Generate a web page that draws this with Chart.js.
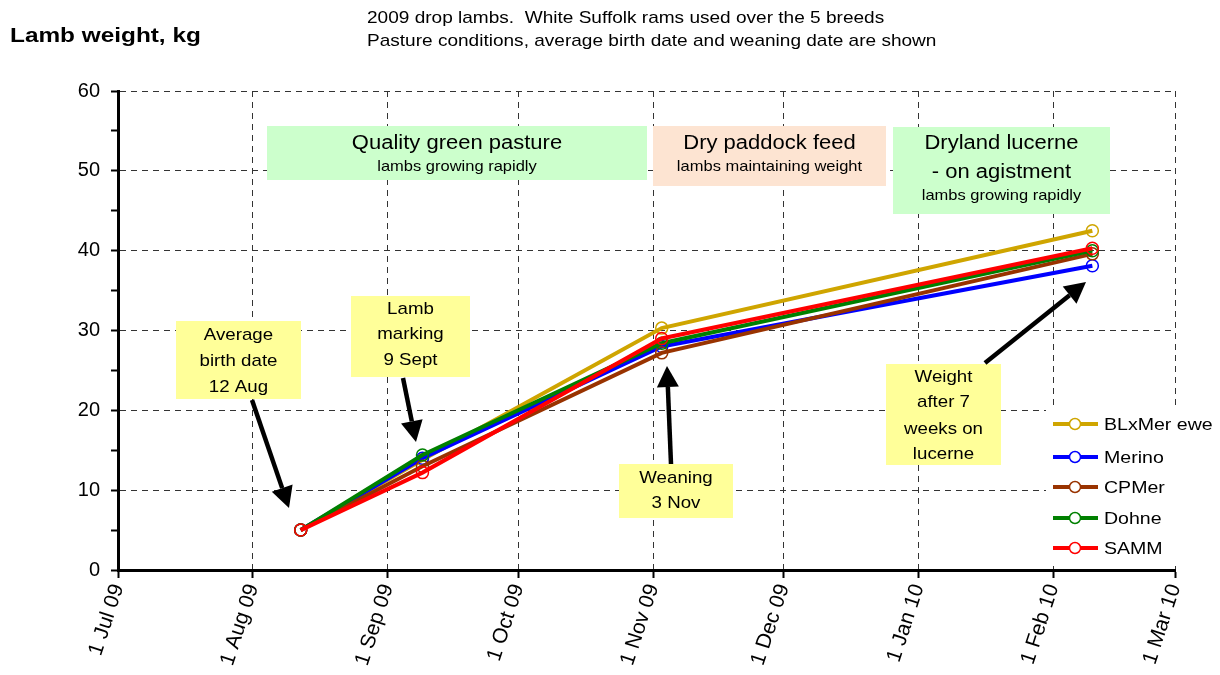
<!DOCTYPE html>
<html>
<head>
<meta charset="utf-8">
<script src="https://cdn.jsdelivr.net/npm/chart.js@4/dist/chart.umd.min.js"></script>
<style>
  body { margin: 0; background: #fff; }
  #wrap { width: 1220px; height: 675px; }
</style>
</head>
<body>
<div id="wrap"><canvas id="chartWeight" width="1220" height="675"></canvas></div>
<script>
// weigh dates and lamb weights (kg) per breed
const weighDates = ['2009-08-12', '2009-09-09', '2009-11-03', '2010-02-10'];
const blxmer = [5.0, 13.8, 30.3, 42.5];
const merino = [5.0, 14.0, 28.0, 38.1];
const cpmer  = [5.0, 13.0, 27.2, 39.6];
const dohne  = [5.0, 14.4, 28.4, 40.0];
const samm   = [5.0, 12.2, 29.0, 40.3];

// x axis month ticks
const monthDates  = ['2009-07-01', '2009-08-01', '2009-09-01', '2009-10-01', '2009-11-01',
                     '2009-12-01', '2010-01-01', '2010-02-01', '2010-03-01'];
const monthLabels = ['1 Jul 09', '1 Aug 09', '1 Sep 09', '1 Oct 09', '1 Nov 09',
                     '1 Dec 09', '1 Jan 10', '1 Feb 10', '1 Mar 10'];

const seriesNames = ['BLxMer ewe', 'Merino', 'CPMer', 'Dohne', 'SAMM'];
const seriesData  = [blxmer, merino, cpmer, dohne, samm];
const seriesColors = ['#CFA500', '#0000FF', '#993300', '#008000', '#FF0000'];

const dayOf = (s) => {
    const p = s.split('-').map(Number);
    return (Date.UTC(p[0], p[1] - 1, p[2]) - Date.UTC(2009, 6, 1)) / 86400000;
};
const weighDays = weighDates.map(dayOf);
const monthDays = monthDates.map(dayOf);

const FONT = 'Arial, "Liberation Sans", sans-serif';
Chart.defaults.font.family = FONT;
Chart.defaults.color = '#000';

// annotation boxes, pixel layout: [text, size, y]
const boxes = [
    { x: 176, y: 321, w: 125, h: 78, bg: '#FFFF99', lines: [['Average', 17, 335], ['birth date', 17, 361], ['12 Aug', 17, 387]] },
    { x: 351, y: 296, w: 119, h: 81, bg: '#FFFF99', lines: [['Lamb', 17, 309], ['marking', 17, 334], ['9 Sept', 17, 360]] },
    { x: 619, y: 464, w: 114, h: 54, bg: '#FFFF99', lines: [['Weaning', 17, 478], ['3 Nov', 17, 503]] },
    { x: 886, y: 364, w: 115, h: 101, bg: '#FFFF99', lines: [['Weight', 17, 377], ['after 7', 17, 402], ['weeks on', 17, 429], ['lucerne', 17, 454]] },
    { x: 267, y: 126, w: 380, h: 54, bg: '#CCFFCC', lines: [['Quality green pasture', 20, 143], ['lambs growing rapidly', 15, 167]] },
    { x: 653, y: 126, w: 233, h: 60, bg: '#FDE4D2', lines: [['Dry paddock feed', 20, 143], ['lambs maintaining weight', 15, 167]] },
    { x: 893, y: 127, w: 217, h: 87, bg: '#CCFFCC', lines: [['Dryland lucerne', 20, 143], ['- on agistment', 20, 172], ['lambs growing rapidly', 15, 196]] }
];
const arrows = [
    [252, 400, 289, 508],
    [403, 378, 416, 442],
    [671, 464, 667, 366],
    [985, 363, 1086, 282]
];

// text is slightly wider in the original, stretch a bit
function txt(ctx, s, x, y, size, sx, align, bold) {
    ctx.save();
    ctx.font = (bold ? 'bold ' : '') + size + 'px ' + FONT;
    ctx.textAlign = align || 'left';
    ctx.textBaseline = 'middle';
    ctx.translate(x, y);
    ctx.scale(sx, 1);
    ctx.fillText(s, 0, 0);
    ctx.restore();
}

function drawArrow(ctx, x1, y1, x2, y2) {
    const ang = Math.atan2(y2 - y1, x2 - x1);
    const headLen = 21, headW = 11;
    const bx = x2 - headLen * Math.cos(ang), by = y2 - headLen * Math.sin(ang);
    ctx.strokeStyle = '#000';
    ctx.lineWidth = 4.5;
    ctx.beginPath();
    ctx.moveTo(x1, y1);
    ctx.lineTo(bx, by);
    ctx.stroke();
    ctx.fillStyle = '#000';
    ctx.beginPath();
    ctx.moveTo(x2, y2);
    ctx.lineTo(bx + headW * Math.sin(ang), by - headW * Math.cos(ang));
    ctx.lineTo(bx - headW * Math.sin(ang), by + headW * Math.cos(ang));
    ctx.closePath();
    ctx.fill();
}

const extrasPlugin = {
    id: 'extras',
    afterDraw(chart) {
        const ctx = chart.ctx;
        ctx.save();
        ctx.fillStyle = '#000';
        txt(ctx, 'Lamb weight, kg', 10, 36, 21, 1.16, 'left', true);
        txt(ctx, '2009 drop lambs.  White Suffolk rams used over the 5 breeds', 367, 18, 17, 1.12);
        txt(ctx, 'Pasture conditions, average birth date and weaning date are shown', 367, 41, 17, 1.12);

        boxes.forEach(b => {
            ctx.fillStyle = b.bg;
            ctx.fillRect(b.x, b.y, b.w, b.h);
            ctx.fillStyle = '#000';
            b.lines.forEach(l => txt(ctx, l[0], b.x + b.w / 2, l[2], l[1], 1.1, 'center'));
        });
        arrows.forEach(a => drawArrow(ctx, a[0], a[1], a[2], a[3]));

        // legend, white background hides the grid
        ctx.fillStyle = '#fff';
        ctx.fillRect(1046, 405, 172, 161);
        const legY = [424, 457, 487, 518, 548];
        seriesNames.forEach((name, i) => {
            const y = legY[i];
            ctx.strokeStyle = seriesColors[i];
            ctx.lineWidth = 4;
            ctx.beginPath();
            ctx.moveTo(1053, y);
            ctx.lineTo(1098, y);
            ctx.stroke();
            ctx.fillStyle = '#fff';
            ctx.lineWidth = 1.5;
            ctx.beginPath();
            ctx.arc(1075, y, 5.5, 0, Math.PI * 2);
            ctx.fill();
            ctx.stroke();
            ctx.fillStyle = '#000';
            txt(ctx, name, 1104, y + 1, 17, 1.15);
        });
        ctx.restore();
    }
};

const datasets = seriesNames.map((name, i) => ({
    label: name,
    data: weighDays.map((d, j) => ({ x: d, y: seriesData[i][j] })),
    borderColor: seriesColors[i],
    borderWidth: 4,
    pointRadius: 6,
    pointBorderWidth: 1.5,
    pointBackgroundColor: 'rgba(255,255,255,0)',
    pointBorderColor: seriesColors[i],
    tension: 0,
    order: seriesNames.length - 1 - i
}));

new Chart(document.getElementById('chartWeight'), {
    type: 'line',
    data: { datasets },
    options: {
        responsive: false,
        animation: false,
        layout: { padding: { top: 91, right: 45, left: 0, bottom: 0 } },
        plugins: { legend: { display: false }, tooltip: { enabled: false } },
        scales: {
            x: {
                type: 'linear',
                min: 0,
                max: monthDays[monthDays.length - 1],
                afterBuildTicks: (axis) => { axis.ticks = monthDays.map(v => ({ value: v })); },
                afterFit: (scale) => { scale.height = 105; },
                ticks: {
                    minRotation: 72,
                    maxRotation: 72,
                    padding: 3,
                    font: { size: 21 },
                    callback: (v) => monthLabels[monthDays.indexOf(v)]
                },
                grid: {
                    color: '#333',
                    lineWidth: 1,
                    tickColor: '#000',
                    tickLength: 8,
                    tickWidth: 2,
                    tickBorderDash: []
                },
                border: { color: '#000', width: 3, dash: [6, 5] }
            },
            y: {
                min: 0,
                max: 60,
                afterFit: (scale) => { scale.width = 118; },
                ticks: {
                    stepSize: 5,
                    padding: 11,
                    font: { size: 20 },
                    callback: (v) => (v % 10 === 0 ? v : '')
                },
                grid: {
                    color: (c) => (c.tick && c.tick.value % 10 === 0 ? '#333' : 'rgba(0,0,0,0)'),
                    lineWidth: 1,
                    tickColor: '#000',
                    tickLength: 7,
                    tickWidth: 2,
                    tickBorderDash: []
                },
                border: { color: '#000', width: 3, dash: [6, 5] }
            }
        }
    },
    plugins: [extrasPlugin]
});
</script>
</body>
</html>
